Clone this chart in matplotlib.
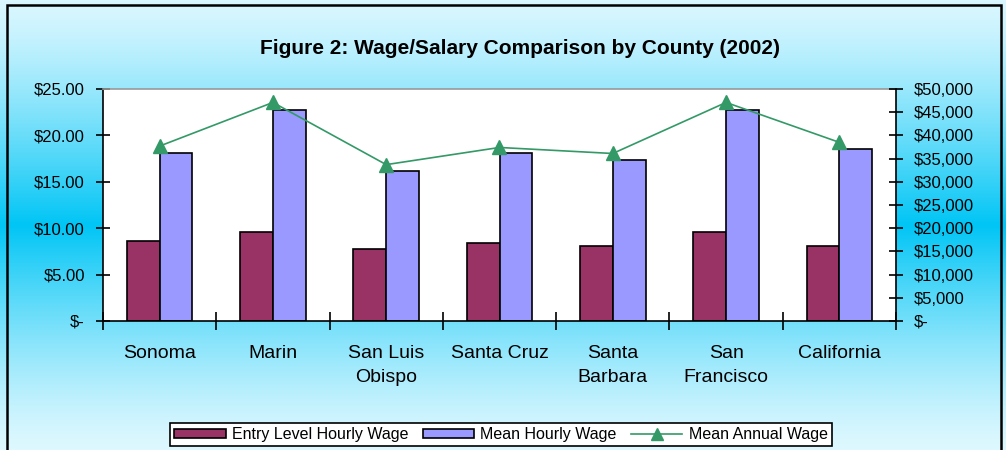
import numpy as np
import matplotlib
matplotlib.use("Agg")
import matplotlib.pyplot as plt
from matplotlib.lines import Line2D
from matplotlib.patches import Patch, Rectangle
from matplotlib.ticker import FuncFormatter, FixedLocator

plt.rcParams['font.family'] = ['Liberation Sans', 'DejaVu Sans']

counties = ["Sonoma", "Marin", "San Luis\nObispo", "Santa Cruz", "Santa\nBarbara", "San\nFrancisco", "California"]
entry_hourly = [8.62, 9.60, 7.76, 8.40, 8.08, 9.60, 8.08]
mean_hourly = [18.10, 22.70, 16.20, 18.10, 17.35, 22.70, 18.50]
mean_annual = [37700, 47100, 33700, 37400, 36100, 47100, 38500]

title = "Figure 2: Wage/Salary Comparison by County (2002)"

W, H = 1006, 450
fig = plt.figure(figsize=(W / 100, H / 100), dpi=100)

# background gradient
bg = fig.add_axes([0, 0, 1, 1], zorder=-10)
t = np.linspace(0, 1, 450)
top = np.array([218, 247, 255]) / 255
mid = np.array([0, 197, 245]) / 255
bot = np.array([222, 248, 255]) / 255
mid_t = 0.5
img = np.zeros((450, 1, 3))
for i, tt in enumerate(t):
    if tt < mid_t:
        w = (tt / mid_t) ** 1.3
        c = top * (1 - w) + mid * w
    else:
        w = ((1 - tt) / (1 - mid_t)) ** 1.3
        c = bot * (1 - w) + mid * w
    img[i, 0] = c
bg.imshow(img, aspect='auto', extent=[0, 1, 0, 1], origin='upper')
bg.set_xlim(0, 1)
bg.set_ylim(0, 1)
bg.axis('off')
bg.add_patch(Rectangle((7 / W, -0.1), (1001 - 7) / W, 1 - 5 / H + 0.1,
                       fill=False, edgecolor='black', linewidth=1.8,
                       transform=bg.transAxes))

ax = fig.add_axes([103 / W, 1 - 321 / H, 793 / W, 232 / H])
ax.set_facecolor('white')
x = np.arange(len(counties))
bw = 0.29
ax.bar(x - bw / 2, entry_hourly, bw, color='#993366', edgecolor='black', linewidth=1.2, zorder=2)
ax.bar(x + bw / 2, mean_hourly, bw, color='#9999ff', edgecolor='black', linewidth=1.2, zorder=2)
ax.set_xlim(-0.5, len(counties) - 0.5)
ax.set_ylim(0, 25)
ax.set_yticks([0, 5, 10, 15, 20, 25])
ax.yaxis.set_major_formatter(FuncFormatter(lambda v, p: "$-" if v == 0 else f"${v:.2f}"))
ax.tick_params(axis='y', direction='inout', length=10, width=1.2, labelsize=12, pad=8)
ax.set_xticks(x)
ax.set_xticklabels(counties, fontsize=14, linespacing=1.55)
ax.tick_params(axis='x', which='major', length=0, pad=17)
ax.xaxis.set_minor_locator(FixedLocator(np.arange(-0.5, len(counties), 1.0)))
ax.tick_params(axis='x', which='minor', direction='inout', length=13, width=1.2)
for s in ['left', 'bottom']:
    ax.spines[s].set_color('black')
    ax.spines[s].set_linewidth(1.2)
ax.spines['top'].set_color('#999999')
ax.spines['top'].set_linewidth(1.2)
ax.spines['right'].set_visible(False)

ax2 = ax.twinx()
ax2.plot(x, mean_annual, color='#339966', linewidth=1.2, marker='^', markersize=10, zorder=3)
ax2.set_ylim(0, 50000)
ax2.set_yticks(np.arange(0, 50001, 5000))
ax2.yaxis.set_major_formatter(FuncFormatter(lambda v, p: "$-" if v == 0 else f"${v:,.0f}"))
ax2.tick_params(axis='y', direction='inout', length=10, width=1.2, labelsize=12, pad=8)
ax2.spines['right'].set_color('black')
ax2.spines['right'].set_linewidth(1.2)
ax2.spines['top'].set_visible(False)
ax2.spines['left'].set_visible(False)
ax2.spines['bottom'].set_visible(False)

fig.text(520 / W, 1 - 49 / H, title, ha='center', va='center', fontsize=15, fontweight='bold')

handles = [
    Patch(facecolor='#993366', edgecolor='black', linewidth=1.2, label='Entry Level Hourly Wage'),
    Patch(facecolor='#9999ff', edgecolor='black', linewidth=1.2, label='Mean Hourly Wage'),
    Line2D([], [], color='#339966', linewidth=1.2, marker='^', markersize=8, label='Mean Annual Wage'),
]
leg = fig.legend(handles=handles, loc='center', bbox_to_anchor=(501 / W, 1 - 434.5 / H), ncol=3,
                 fontsize=11.5, frameon=True, fancybox=False, edgecolor='black', framealpha=1,
                 handlelength=3.2, handleheight=0.45, handletextpad=0.4, columnspacing=0.9,
                 borderpad=0.25)
leg.get_frame().set_linewidth(1.2)

fig.savefig("out.png", dpi=100)
